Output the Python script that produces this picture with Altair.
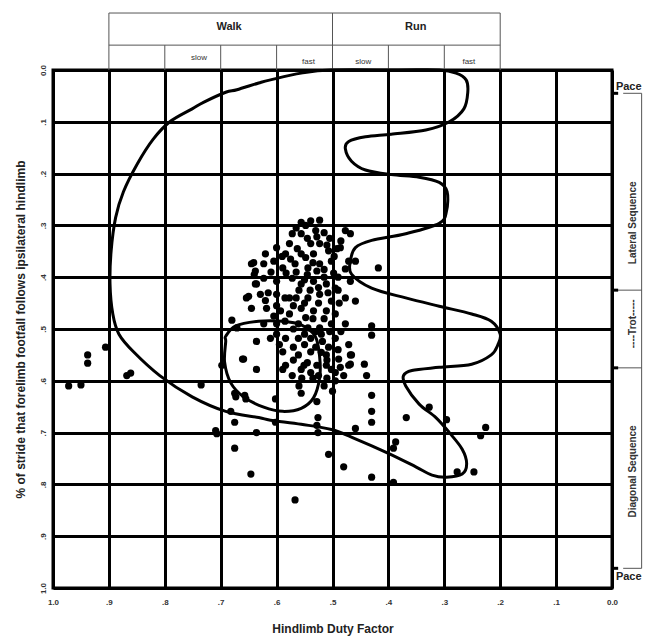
import altair as alt
import pandas as pd

# ---------------- data ----------------
grid_values = [0.0, 0.1, 0.2, 0.3, 0.4, 0.5, 0.6, 0.7, 0.8, 0.9, 1.0]

# large boundary curve (duty factor, limb phase), traced in order
outer_x = [0.309, 0.382, 0.502, 0.556, 0.611, 0.632, 0.671, 0.691, 0.730, 0.751, 0.791, 0.821,
           0.849, 0.874, 0.888, 0.896, 0.898, 0.893, 0.882, 0.856, 0.809, 0.751, 0.691, 0.632,
           0.611, 0.556, 0.502, 0.459, 0.400, 0.351, 0.322, 0.296, 0.268, 0.260, 0.268, 0.291,
           0.315, 0.345, 0.369, 0.373, 0.358, 0.309, 0.251, 0.216, 0.204, 0.200, 0.216, 0.251,
           0.309, 0.369, 0.430, 0.466, 0.468, 0.459, 0.430, 0.369, 0.309, 0.296, 0.295, 0.309,
           0.345, 0.395, 0.441, 0.466, 0.477, 0.471, 0.441, 0.395, 0.333, 0.291, 0.265, 0.258,
           0.261, 0.279]
outer_y = [0.0, 0.0, 0.0, 0.006, 0.019, 0.025, 0.038, 0.043, 0.062, 0.075, 0.100, 0.134,
           0.181, 0.235, 0.285, 0.349, 0.413, 0.471, 0.510, 0.544, 0.590, 0.631, 0.659, 0.671,
           0.676, 0.684, 0.694, 0.712, 0.740, 0.766, 0.782, 0.786, 0.780, 0.760, 0.732, 0.700,
           0.671, 0.645, 0.610, 0.590, 0.580, 0.574, 0.568, 0.550, 0.530, 0.510, 0.485, 0.471,
           0.456, 0.440, 0.421, 0.394, 0.369, 0.343, 0.329, 0.316, 0.296, 0.272, 0.235, 0.217,
           0.207, 0.202, 0.193, 0.176, 0.152, 0.138, 0.129, 0.124, 0.116, 0.100, 0.075, 0.043,
           0.019, 0.006]

# small inner loop
loop_x = [0.691, 0.673, 0.632, 0.589, 0.556, 0.531, 0.523, 0.523, 0.534, 0.556, 0.589, 0.623,
          0.659, 0.682, 0.693, 0.691]
loop_y = [0.514, 0.494, 0.485, 0.485, 0.492, 0.514, 0.554, 0.594, 0.633, 0.653, 0.659, 0.651,
          0.631, 0.604, 0.564, 0.524]

# observed strides
pt_x = [0.972, 0.950, 0.938, 0.938, 0.906, 0.868, 0.861, 0.735, 0.680, 0.682, 0.675, 0.707,
        0.675, 0.646, 0.661, 0.698, 0.675, 0.657, 0.645, 0.650, 0.638, 0.638, 0.567, 0.507,
        0.480, 0.526, 0.526, 0.528, 0.459, 0.636, 0.709, 0.673, 0.655, 0.602, 0.602, 0.556,
        0.528, 0.636, 0.589, 0.572, 0.551, 0.539, 0.511, 0.495, 0.471,
        0.468, 0.486, 0.459, 0.418, 0.477, 0.468, 0.477, 0.459, 0.430, 0.430, 0.468, 0.468,
        0.486, 0.443, 0.439, 0.430, 0.430, 0.430, 0.368, 0.327, 0.296, 0.226, 0.235, 0.387,
        0.391, 0.430, 0.391, 0.277, 0.247,
        0.556, 0.539, 0.572, 0.556, 0.515, 0.577, 0.539, 0.523, 0.600, 0.584, 0.556, 0.534,
        0.507, 0.641, 0.623, 0.605, 0.589, 0.567, 0.544, 0.523, 0.502, 0.471, 0.623, 0.600,
        0.572, 0.556, 0.534, 0.511, 0.495, 0.636, 0.654, 0.629, 0.600, 0.577, 0.544, 0.523,
        0.502, 0.645, 0.618, 0.593, 0.556, 0.534, 0.511, 0.495, 0.577, 0.671, 0.623, 0.600,
        0.561, 0.544, 0.523, 0.502, 0.477, 0.611, 0.584, 0.561, 0.539, 0.518, 0.495, 0.471,
        0.636, 0.659, 0.589, 0.561, 0.539, 0.511, 0.489, 0.466, 0.584, 0.556, 0.528, 0.502,
        0.548, 0.530, 0.563, 0.548, 0.528, 0.515, 0.545, 0.583, 0.560, 0.540, 0.525, 0.515,
        0.548, 0.570, 0.585, 0.600, 0.615, 0.610, 0.590, 0.520, 0.550, 0.570, 0.530, 0.510,
        0.545, 0.525, 0.555, 0.495, 0.507, 0.488, 0.490, 0.497, 0.485, 0.505, 0.620, 0.640,
        0.523, 0.477,
        0.565, 0.545, 0.528, 0.510, 0.492, 0.575, 0.535, 0.515, 0.498, 0.565, 0.550, 0.525,
        0.508, 0.490, 0.565, 0.550, 0.535, 0.570, 0.530, 0.505, 0.485, 0.550, 0.490, 0.520,
        0.570, 0.535, 0.510, 0.480, 0.500, 0.515, 0.560, 0.600, 0.605, 0.620, 0.585, 0.595]
pt_y = [0.610, 0.608, 0.550, 0.566, 0.535, 0.590, 0.585, 0.608, 0.483, 0.659, 0.680, 0.702,
        0.730, 0.780, 0.558, 0.570, 0.624, 0.628, 0.374, 0.437, 0.388, 0.413, 0.830, 0.742,
        0.766, 0.700, 0.671, 0.686, 0.692, 0.700, 0.696, 0.631, 0.635, 0.635, 0.680, 0.624,
        0.640, 0.578, 0.578, 0.590, 0.570, 0.584, 0.570, 0.584, 0.570,
        0.316, 0.343, 0.369, 0.382, 0.384, 0.408, 0.440, 0.446, 0.494, 0.512, 0.550, 0.568,
        0.574, 0.568, 0.590, 0.628, 0.659, 0.680, 0.671, 0.651, 0.675, 0.690, 0.706, 0.718,
        0.730, 0.786, 0.796, 0.776, 0.776,
        0.294, 0.291, 0.316, 0.316, 0.314, 0.335, 0.335, 0.335, 0.343, 0.355, 0.355, 0.355,
        0.349, 0.372, 0.374, 0.369, 0.382, 0.374, 0.382, 0.374, 0.369, 0.369, 0.402, 0.408,
        0.402, 0.413, 0.408, 0.413, 0.421, 0.413, 0.440, 0.433, 0.433, 0.440, 0.440, 0.433,
        0.446, 0.460, 0.460, 0.465, 0.460, 0.465, 0.465, 0.471, 0.471, 0.498, 0.490, 0.490,
        0.490, 0.498, 0.498, 0.490, 0.490, 0.518, 0.518, 0.518, 0.518, 0.524, 0.518, 0.530,
        0.524, 0.558, 0.544, 0.550, 0.544, 0.550, 0.558, 0.550, 0.570, 0.578, 0.570, 0.578,
        0.300, 0.310, 0.345, 0.362, 0.388, 0.400, 0.395, 0.392, 0.425, 0.425, 0.450, 0.480,
        0.478, 0.455, 0.440, 0.455, 0.430, 0.390, 0.360, 0.510, 0.510, 0.535, 0.535, 0.560,
        0.565, 0.590, 0.595, 0.600, 0.535, 0.450, 0.400, 0.360, 0.330, 0.325, 0.355, 0.395,
        0.290, 0.310,
        0.305, 0.325, 0.322, 0.338, 0.345, 0.365, 0.372, 0.385, 0.392, 0.390, 0.405, 0.420,
        0.430, 0.425, 0.440, 0.450, 0.480, 0.500, 0.505, 0.505, 0.505, 0.530, 0.540, 0.545,
        0.560, 0.595, 0.595, 0.590, 0.620, 0.610, 0.610, 0.510, 0.475, 0.445, 0.485, 0.530]

# header table (gait and speed)
gait_names = ["Walk", "Run"]
gait_name_x = [0.685, 0.351]
gait_name_y = [-0.083, -0.083]
speed_names = ["slow", "fast", "slow", "fast"]
speed_x = [0.739, 0.543, 0.445, 0.256]
speed_y = [-0.024, -0.015, -0.015, -0.015]
header_top = -0.110
header_mid = -0.048
header_left = 0.9
header_right = 0.2
header_full_x = [0.9, 0.5, 0.2]
header_sub_x = [0.8, 0.7, 0.6, 0.4, 0.3]

# right-hand sequence brackets
seq_names = ["Lateral Sequence", "----Trot-----", "Diagonal Sequence"]
seq_y = [0.295, 0.49, 0.775]
seq_x = -0.037
pace_names = ["Pace", "Pace"]
pace_y = [0.033, 0.979]
pace_x = -0.007
bracket_seg_x1 = [-0.053, -0.02, 0.0, 0.0, -0.02]
bracket_seg_x2 = [-0.053, -0.053, -0.053, -0.053, -0.053]
bracket_seg_y1 = [0.045, 0.045, 0.425, 0.575, 0.962]
bracket_seg_y2 = [0.962, 0.045, 0.425, 0.575, 0.962]
frame_tick_y = [0.045, 0.425, 0.575, 0.962]
frame_tick_len = -0.011

# ---------------- tables ----------------
curves = pd.DataFrame({
    "x": outer_x + loop_x,
    "y": outer_y + loop_y,
    "curve": ["outer"] * len(outer_x) + ["loop"] * len(loop_x),
    "idx": list(range(len(outer_x))) + list(range(len(loop_x))),
})
points = pd.DataFrame({"x": pt_x, "y": pt_y})

hdr_segments = pd.DataFrame({
    "x": [header_left, header_left] + header_full_x + header_sub_x,
    "x2": [header_right, header_right] + header_full_x + header_sub_x,
    "y": [header_top, header_mid] + [header_top] * len(header_full_x) + [header_mid] * len(header_sub_x),
    "y2": [header_top, header_mid] + [0.0] * len(header_full_x) + [0.0] * len(header_sub_x),
})
gait_df = pd.DataFrame({"x": gait_name_x, "y": gait_name_y, "t": gait_names})
speed_df = pd.DataFrame({"x": speed_x, "y": speed_y, "t": speed_names})
bracket_df = pd.DataFrame({"x": bracket_seg_x1, "x2": bracket_seg_x2,
                           "y": bracket_seg_y1, "y2": bracket_seg_y2})
ftick_df = pd.DataFrame({"x": [0.0] * len(frame_tick_y), "x2": [frame_tick_len] * len(frame_tick_y),
                         "y": frame_tick_y, "y2": frame_tick_y})
seq_df = pd.DataFrame({"x": [seq_x] * len(seq_names), "y": seq_y, "t": seq_names})
pace_df = pd.DataFrame({"x": [pace_x] * 2, "y": pace_y, "t": pace_names})

# ---------------- encodings ----------------
FONT = "Liberation Sans"
label_expr = ("datum.value == 0 ? '0.0' : datum.value == 1 ? '1.0' : "
              "replace(format(datum.value, '.1f'), '0.', '.')")

xscale = alt.Scale(domain=[1, 0], nice=False, zero=False)
yscale = alt.Scale(domain=[0, 1], reverse=True, nice=False, zero=False)

xaxis = alt.Axis(values=grid_values, labelExpr=label_expr, grid=True, gridColor="black",
                 gridWidth=3, gridOpacity=1, domain=False, ticks=False, labelFlush=False,
                 labelFont=FONT, labelFontSize=8, labelFontWeight="bold", labelColor="#333",
                 labelPadding=10, title="Hindlimb Duty Factor", titleFont=FONT,
                 titleFontSize=12, titleFontWeight="bold", titleColor="#222", titlePadding=17)
yaxis = alt.Axis(values=grid_values, labelExpr=label_expr, grid=True, gridColor="black",
                 gridWidth=3, gridOpacity=1, domain=False, ticks=False, labelFlush=False,
                 labelAngle=270, labelAlign="center", labelBaseline="bottom",
                 labelFont=FONT, labelFontSize=8, labelFontWeight="bold", labelColor="#333",
                 labelPadding=6,
                 title="% of stride that forelimb footfall follows ipsilateral hindlimb",
                 titleFont=FONT, titleFontSize=12, titleFontWeight="bold", titleColor="#222",
                 titlePadding=12)


def X(field="x"):
    return alt.X(f"{field}:Q", scale=xscale, axis=xaxis)


def Y(field="y"):
    return alt.Y(f"{field}:Q", scale=yscale, axis=yaxis)


curve_layer = alt.Chart(curves).mark_line(
    interpolate="cardinal-closed", strokeWidth=3, color="black"
).encode(x=X(), y=Y(), detail="curve:N", order="idx:Q")

point_layer = alt.Chart(points).mark_point(
    filled=True, shape="circle", size=52, color="black", opacity=1
).encode(x=X(), y=Y())

hdr_layer = alt.Chart(hdr_segments).mark_rule(color="#555", strokeWidth=1).encode(
    x=X(), x2="x2:Q", y=Y(), y2="y2:Q")

gait_layer = alt.Chart(gait_df).mark_text(
    font=FONT, fontSize=11, fontWeight="bold", color="#222", align="center", baseline="middle"
).encode(x=X(), y=Y(), text="t:N")

speed_layer = alt.Chart(speed_df).mark_text(
    font=FONT, fontSize=8, color="#333", align="center", baseline="middle"
).encode(x=X(), y=Y(), text="t:N")

bracket_layer = alt.Chart(bracket_df).mark_rule(color="#555", strokeWidth=1).encode(
    x=X(), x2="x2:Q", y=Y(), y2="y2:Q")

ftick_layer = alt.Chart(ftick_df).mark_rule(color="black", strokeWidth=3).encode(
    x=X(), x2="x2:Q", y=Y(), y2="y2:Q")

seq_layer = alt.Chart(seq_df).mark_text(
    font=FONT, fontSize=10, fontWeight="bold", color="#333", angle=270,
    align="center", baseline="middle"
).encode(x=X(), y=Y(), text="t:N")

pace_layer = alt.Chart(pace_df).mark_text(
    font=FONT, fontSize=11, fontWeight="bold", color="#222", align="left", baseline="middle"
).encode(x=X(), y=Y(), text="t:N")

chart = alt.layer(
    hdr_layer, bracket_layer, ftick_layer, curve_layer, point_layer,
    gait_layer, speed_layer, seq_layer, pace_layer
).properties(
    width=559, height=518,
    autosize=alt.AutoSizeParams(type="none"),
    padding={"left": 45, "top": 62, "right": 31, "bottom": 48},
).configure_view(stroke="black", strokeWidth=3)

chart.save("out.html", embed_options={"renderer": "svg", "actions": False})
